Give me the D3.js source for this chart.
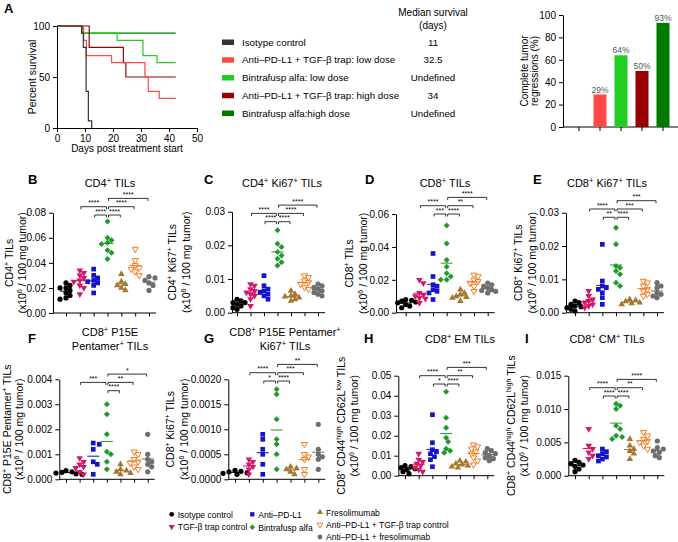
<!DOCTYPE html>
<html><head><meta charset="utf-8">
<script src="https://cdn.jsdelivr.net/npm/d3@7"></script>
<style>body{margin:0;background:#fff}svg{display:block;font-family:"Liberation Sans",Arial,sans-serif}</style>
</head><body><svg id="c" width="678" height="542"></svg>
<script>
// ---------------- DATA ----------------
const survivalGroups = ["Isotype control","Anti–PD-L1 + TGF-β trap: low dose","Bintrafusp alfa: low dose","Anti–PD-L1 + TGF-β trap: high dose","Bintrafusp alfa:high dose"];
const medianSurvival = ["11","32.5","Undefined","34","Undefined"];
const survIsotype   = [[0,100],[8.8,93],[9.4,79],[10.4,36],[11.2,7],[12.4,0]];
const survComboLow  = [[0,100],[9.5,86],[10.5,71],[19.5,64],[31.4,50],[32.6,36],[36.5,29],[42.4,29]];
const survBintraLow = [[0,100],[9,93],[21.5,86],[30.7,71],[35.7,64],[42.4,64]];
const survComboHigh = [[0,100],[11.5,79],[23.7,64],[24.6,50],[42.4,50]];
const survBintraHigh= [[0,100],[9,93],[42.4,93]];
const survXTicks = [0,10,20,30,40,50];
const survYTicks = [0,50,100];
const regressionPct = [0,29,64,50,93];
const regressionTicks = [0,20,40,60,80,100];

const treatmentGroups = ["Isotype control","TGF-β trap control","Anti–PD-L1","Bintrafusp alfa","Fresolimumab","Anti–PD-L1 + TGF-β trap control","Anti–PD-L1 + fresolimumab"];

const cd4TILs = [
 [0.024,0.022,0.02,0.018,0.016,0.014,0.012,0.011,0.02],
 [0.034,0.032,0.028,0.026,0.025,0.022,0.02,0.015,0.03],
 [0.035,0.03,0.028,0.026,0.025,0.024,0.022,0.016],
 [0.073,0.06,0.058,0.056,0.055,0.05,0.048,0.043],
 [0.031,0.025,0.023,0.022,0.02,0.018],
 [0.051,0.042,0.038,0.036,0.035,0.033,0.03],
 [0.029,0.028,0.026,0.024,0.022,0.018]];
const cd4Ki67TILs = [
 [0.004,0.0035,0.003,0.003,0.0025,0.002,0.0015,0.001],
 [0.0085,0.008,0.007,0.0065,0.006,0.0055,0.005,0.004,0.002],
 [0.011,0.008,0.007,0.0065,0.006,0.0055,0.005,0.004],
 [0.0245,0.0205,0.0195,0.018,0.017,0.016,0.015,0.014],
 [0.0065,0.0055,0.005,0.0048,0.0045,0.004,0.0035],
 [0.011,0.0105,0.0095,0.009,0.0085,0.0075,0.007],
 [0.0085,0.008,0.0075,0.007,0.0065,0.006,0.0055,0.005]];
const cd8TILs = [
 [0.008,0.0075,0.007,0.0065,0.006,0.005,0.004,0.003],
 [0.02,0.018,0.012,0.011,0.01,0.009,0.0085,0.006],
 [0.036,0.022,0.017,0.016,0.014,0.013,0.012,0.008],
 [0.053,0.042,0.032,0.028,0.024,0.022,0.02,0.02],
 [0.014,0.012,0.011,0.01,0.0095,0.009,0.007],
 [0.023,0.022,0.02,0.019,0.018,0.016,0.013],
 [0.018,0.017,0.016,0.015,0.014,0.0135,0.013,0.012]];
const cd8Ki67TILs = [
 [0.0035,0.003,0.0025,0.002,0.0018,0.0015,0.001,0.0005],
 [0.0065,0.005,0.004,0.0035,0.003,0.0025,0.002,0.0015],
 [0.0205,0.0095,0.008,0.0075,0.007,0.006,0.0045,0.0025],
 [0.0255,0.0205,0.014,0.0135,0.0125,0.0115,0.009,0.008],
 [0.004,0.0037,0.0034,0.003,0.0028,0.0025],
 [0.0095,0.009,0.008,0.007,0.0065,0.0055,0.005],
 [0.009,0.008,0.0075,0.006,0.0055,0.005,0.0045]];
const cd8PentTILs = [
 [0.00035,0.0003,0.00028,0.00025,0.00022,0.0002],
 [0.00085,0.0007,0.0006,0.0005,0.00045,0.0003,0.0002],
 [0.00145,0.0014,0.0012,0.0007,0.0006,0.0002],
 [0.003,0.0026,0.0018,0.0011,0.001,0.0007,0.0004],
 [0.0006,0.0004,0.00035,0.0003,0.00025,0.0002],
 [0.0011,0.001,0.0008,0.0007,0.00065,0.0005,0.0004],
 [0.0018,0.001,0.0008,0.0007,0.0006,0.0005,0.0003]];
const cd8PentKi67TILs = [
 [0.00018,0.00016,0.00015,0.00013,0.00012,0.0001],
 [0.0004,0.00035,0.0003,0.00025,0.0002,0.0001],
 [0.0009,0.0008,0.0006,0.0005,0.0003,0.0001],
 [0.0018,0.0017,0.0012,0.0008,0.0007,0.0005,0.0002],
 [0.00025,0.00022,0.0002,0.00015,0.0001],
 [0.0007,0.0005,0.00045,0.0004,0.0002,0.0001],
 [0.0011,0.0006,0.0005,0.00045,0.0004,0.0002]];
const cd8EMTILs = [
 [0.005,0.0045,0.004,0.0035,0.003,0.002,0.001],
 [0.011,0.008,0.007,0.006,0.005,0.004,0.003,0.002],
 [0.0305,0.0165,0.013,0.012,0.011,0.0095,0.008,0.0045],
 [0.042,0.029,0.024,0.019,0.017,0.0135,0.0125,0.0115],
 [0.0075,0.007,0.006,0.0055,0.005,0.0045,0.004],
 [0.0155,0.0145,0.0135,0.012,0.011,0.009,0.0075,0.0055],
 [0.0135,0.0125,0.0115,0.011,0.01,0.009,0.0085,0.0075]];
const cd8CMTILs = [
 [0.0023,0.002,0.0018,0.0016,0.0014,0.001,0.0006],
 [0.007,0.0045,0.004,0.0035,0.003,0.0025],
 [0.004,0.0036,0.0033,0.003,0.0028,0.0025,0.0022],
 [0.0108,0.0105,0.01,0.0075,0.007,0.006,0.0058,0.0055],
 [0.0055,0.0045,0.004,0.0037,0.0033,0.0025],
 [0.0065,0.006,0.0055,0.0052,0.005,0.0045,0.004],
 [0.0052,0.0042,0.004,0.0037,0.0035,0.003,0.0027]];

// significance: [groupA, groupB, label, row]
const sigB = [[1,3,"****",1],[2,3,"****",0],[3,4,"****",0],[3,5,"****",1],[3,6,"****",2]];
const sigC = [[1,3,"****",1],[2,3,"****",0],[3,4,"****",0],[3,5,"****",1],[3,6,"****",2]];
const sigD = [[1,3,"****",1],[2,3,"***",0],[3,4,"****",0],[3,5,"**",1],[3,6,"****",2]];
const sigE = [[1,3,"****",1],[2,3,"**",0],[3,4,"****",0],[3,5,"***",1],[3,6,"***",2]];
const sigF = [[1,3,"***",1],[3,4,"****",0],[3,5,"**",1],[3,6,"*",2]];
const sigG = [[1,3,"****",1],[2,3,"*",0],[3,4,"****",0],[3,5,"***",1],[3,6,"**",2]];
const sigH = [[1,3,"****",1],[2,3,"*",0],[3,4,"****",0],[3,5,"**",1],[3,6,"***",2]];
const sigI = [[1,3,"****",1],[2,3,"****",0],[3,4,"****",0],[3,5,"**",1],[3,6,"****",2]];

// ---------------- STYLE / LAYOUT ----------------
const survColors = ["#333333","#ff4848","#22cc22","#990000","#007a00"];
const markerStyles = [
 {t:"circle",fill:"#000",stroke:"none"},
 {t:"triD",fill:"#d4176b",stroke:"none"},
 {t:"square",fill:"#1414cc",stroke:"none"},
 {t:"diamond",fill:"#1f9a2a",stroke:"none"},
 {t:"triU",fill:"#a5762d",stroke:"none"},
 {t:"triD",fill:"#fff",stroke:"#f47b20"},
 {t:"circle",fill:"#6e6e6e",stroke:"none"}];

const svg = d3.select("#c");

function rich(sel, str){
  str.split(/(\^\{[^}]*\})/).forEach(p=>{
    if(!p) return;
    if(p.startsWith("^{")) sel.append("tspan").attr("baseline-shift","super").attr("font-size","68%").text(p.slice(2,-1));
    else sel.append("tspan").text(p);
  });
}
function styleAxis(g, fs){
  g.selectAll("path,line").attr("stroke","#000").attr("stroke-width",1);
  g.selectAll("text").attr("font-size",fs).attr("fill","#000").attr("font-family","Liberation Sans, Arial, sans-serif");
}
function marker(g, st, x, y, scale){
  scale = scale||1;
  let path, rot=0;
  if(st.t==="circle") path=d3.symbol(d3.symbolCircle,21*scale)();
  else if(st.t==="square") path=d3.symbol(d3.symbolSquare,22*scale)();
  else if(st.t==="diamond"){path=d3.symbol(d3.symbolSquare,18*scale)(); rot=45;}
  else if(st.t==="triU") path=d3.symbol(d3.symbolTriangle,19*scale)();
  else {path=d3.symbol(d3.symbolTriangle,(st.stroke!=="none"?16:19)*scale)(); rot=180;}
  g.append("path").attr("d",path).attr("transform",`translate(${x},${y}) rotate(${rot})`)
   .attr("fill",st.fill).attr("stroke",st.stroke).attr("stroke-width",st.stroke!=="none"?1:0);
}

// ---------------- PANEL A: survival ----------------
svg.append("text").attr("x",4).attr("y",13).attr("font-size",13).attr("font-weight","bold").text("A");
const sx = d3.scaleLinear([0,50],[57,197]);
const sy = d3.scaleLinear([0,100],[128,26]);
const gA = svg.append("g");
gA.append("g").attr("transform","translate(57,0)").call(d3.axisLeft(sy).tickValues(survYTicks).tickSize(4).tickSizeOuter(0)).call(g=>styleAxis(g,10));
gA.append("g").attr("transform","translate(0,128)").call(d3.axisBottom(sx).tickValues(survXTicks).tickSize(4).tickSizeOuter(0)).call(g=>styleAxis(g,10));
gA.append("text").attr("transform","translate(36,77) rotate(-90)").attr("text-anchor","middle").attr("font-size",10.5).text("Percent survival");
gA.append("text").attr("x",127).attr("y",152).attr("text-anchor","middle").attr("font-size",10).text("Days post treatment start");
const survLine = d3.line().x(d=>sx(d[0])).y(d=>sy(d[1])).curve(d3.curveStepAfter);
[survBintraHigh,survBintraLow,survComboHigh,survComboLow,survIsotype].forEach((s,i)=>{
  const ci=[4,2,3,1,0][i];
  gA.append("path").attr("d",survLine(s)).attr("fill","none").attr("stroke",survColors[ci]).attr("stroke-width",1.2);
});
svg.append("text").attr("x",433).attr("y",16).attr("text-anchor","middle").attr("font-size",10).text("Median survival");
svg.append("text").attr("x",433).attr("y",28.5).attr("text-anchor","middle").attr("font-size",10).text("(days)");
const legRowY = d3.scalePoint(survivalGroups,[42,113]);
survivalGroups.forEach((g,i)=>{
  const y=legRowY(g);
  svg.append("rect").attr("x",222).attr("y",y-2.5).attr("width",12).attr("height",5.5).attr("fill",survColors[i]);
  svg.append("text").attr("x",242).attr("y",y+3.5).attr("font-size",9.8).text(g);
  svg.append("text").attr("x",433).attr("y",y+3.5).attr("text-anchor","middle").attr("font-size",9.8).text(medianSurvival[i]);
});

// ---------------- PANEL A: regression bars ----------------
const bx = d3.scaleBand(survivalGroups,[568.5,673.5]).paddingInner(0.38).paddingOuter(0.19);
const by = d3.scaleLinear([0,100],[127,15]);
const gR = svg.append("g");
gR.append("g").attr("transform","translate(563,0)").call(d3.axisLeft(by).tickValues(regressionTicks).tickSize(4).tickSizeOuter(0)).call(g=>styleAxis(g,10));
const xa = gR.append("g").attr("transform","translate(0,127)").call(d3.axisBottom(bx).tickFormat("").tickSize(4).tickSizeOuter(0));
xa.select(".domain").attr("d","M563,0H678");
styleAxis(xa,9);
survivalGroups.forEach((g,i)=>{
  if(regressionPct[i]>0){
    gR.append("rect").attr("x",bx(g)).attr("y",by(regressionPct[i])).attr("width",bx.bandwidth()).attr("height",by(0)-by(regressionPct[i])).attr("fill",survColors[i]);
    gR.append("text").attr("x",bx(g)+bx.bandwidth()/2).attr("y",by(regressionPct[i])-2).attr("text-anchor","middle").attr("font-size",8.5).attr("fill","#555").text(regressionPct[i]+"%");
  }
});
gR.append("text").attr("transform","translate(528,71) rotate(-90)").attr("text-anchor","middle").attr("font-size",10).text("Complete tumor");
gR.append("text").attr("transform","translate(538,71) rotate(-90)").attr("text-anchor","middle").attr("font-size",10).text("regressions (%)");

// ---------------- DOT PANELS ----------------
const panels = [
 {L:"B",lx:28,ly:184,title:["CD4^{+} TILs"],tx:110,ty:187,yl:"CD4^{+} TILs",yl1:9,yl2:22,ax:53,g0:66,g1:149,yb:313,yt:212.7,max:0.08,step:0.02,fmt:".2f",data:cd4TILs,sig:sigB,sy0:215},
 {L:"C",lx:204,ly:184,title:["CD4^{+} Ki67^{+} TILs"],tx:282,ty:187,yl:"CD4^{+} Ki67^{+} TILs",yl1:172,yl2:186,ax:232,g0:237,g1:318,yb:312.7,yt:211.7,max:0.03,step:0.01,fmt:".2f",data:cd4Ki67TILs,sig:sigC,sy0:221.7},
 {L:"D",lx:365,ly:184,title:["CD8^{+} TILs"],tx:445,ty:187,yl:"CD8^{+} TILs",yl1:349,yl2:363,ax:396,g0:405.7,g1:487.7,yb:312.7,yt:214,max:0.06,step:0.02,fmt:".2f",data:cd8TILs,sig:sigD,sy0:214},
 {L:"E",lx:533,ly:184,title:["CD8^{+} Ki67^{+} TILs"],tx:607,ty:187,yl:"CD8^{+} Ki67^{+} TILs",yl1:518,yl2:532,ax:566,g0:575,g1:657,yb:312.7,yt:212.7,max:0.03,step:0.01,fmt:".2f",data:cd8Ki67TILs,sig:sigE,sy0:217.3},
 {L:"F",lx:28,ly:343,title:["CD8^{+} P15E","Pentamer^{+} TILs"],tx:110,ty:336,yl:"CD8^{+} P15E Pentamer^{+} TILs",yl1:7,yl2:19.5,ax:59.3,g0:66,g1:147.7,yb:479.3,yt:379.3,max:0.004,step:0.001,fmt:".3f",data:cd8PentTILs,sig:sigF,sy0:390.7},
 {L:"G",lx:204,ly:343,title:["CD8^{+} P15E Pentamer^{+}","Ki67^{+} TILs"],tx:285,ty:336,yl:"CD8^{+} Ki67^{+} TILs",yl1:170,yl2:184,ax:228.3,g0:235,g1:318.3,yb:479.3,yt:379.3,max:0.002,step:0.0005,fmt:".4f",data:cd8PentKi67TILs,sig:sigG,sy0:381},
 {L:"H",lx:364,ly:343,title:["CD8^{+} EM TILs"],tx:460,ty:343,yl:"CD8^{+} CD44^{high} CD62L^{low} TILs",yl1:341,yl2:354,ax:398.3,g0:405,g1:487.3,yb:475.7,yt:375.7,max:0.05,step:0.01,fmt:".2f",data:cd8EMTILs,sig:sigH,sy0:384},
 {L:"I",lx:525,ly:343,title:["CD8^{+} CM^{+} TILs"],tx:607,ty:343,yl:"CD8^{+} CD44^{high} CD62L^{high} TILs",yl1:511,yl2:524,ax:568.3,g0:575,g1:657.3,yb:475.7,yt:375.7,max:0.015,step:0.005,fmt:".3f",data:cd8CMTILs,sig:sigI,sy0:396}
];

function swarm(vals, y, cx){
  const pts = vals.map(v=>({v,y:y(v)})).sort((a,b)=>a.y-b.y);
  const placed=[];
  pts.forEach(p=>{
    for(let k=0;k<30;k++){
      const off=(k%2?1:-1)*Math.ceil(k/2)*2;
      const x=cx+off;
      if(placed.every(q=>Math.hypot(q.x-x,q.y-p.y)>=4.3)){p.x=x;break;}
    }
    placed.push(p);
  });
  return placed;
}

panels.forEach(P=>{
  const g = svg.append("g");
  const x = d3.scalePoint(treatmentGroups,[P.g0,P.g1]);
  const y = d3.scaleLinear([0,P.max],[P.yb,P.yt]);
  const ticks = d3.range(0,P.max+P.step/2,P.step);
  g.append("g").attr("transform",`translate(${P.ax},0)`).call(d3.axisLeft(y).tickValues(ticks).tickFormat(d3.format(P.fmt)).tickSize(4).tickSizeOuter(0)).call(a=>styleAxis(a,10));
  const xa = g.append("g").attr("transform",`translate(0,${P.yb})`).call(d3.axisBottom(x).tickFormat("").tickSize(3.5).tickSizeOuter(0));
  xa.select(".domain").attr("d",`M${P.ax},0H${P.g1+7}`);
  styleAxis(xa,9);
  g.append("text").attr("x",P.lx).attr("y",P.ly).attr("font-size",13).attr("font-weight","bold").text(P.L);
  P.title.forEach((t,i)=>{
    const tt = g.append("text").attr("x",P.tx).attr("y",P.ty+i*14).attr("text-anchor","middle").attr("font-size",11);
    rich(tt,t);
  });
  const ym=(P.yb+P.yt)/2;
  const t1=g.append("text").attr("transform",`translate(${P.yl1},${ym}) rotate(-90)`).attr("dy","0.35em").attr("text-anchor","middle").attr("font-size",10.5);
  rich(t1,P.yl);
  const t2=g.append("text").attr("transform",`translate(${P.yl2},${ym}) rotate(-90)`).attr("dy","0.35em").attr("text-anchor","middle").attr("font-size",10.5);
  rich(t2,"(x10^{6} / 100 mg tumor)");
  P.data.forEach((vals,gi)=>{
    const cx=x(treatmentGroups[gi]);
    const st=markerStyles[gi];
    swarm(vals,y,cx).forEach(p=>marker(g,st,p.x,p.y));
    const m=d3.mean(vals);
    g.append("line").attr("x1",cx-6).attr("x2",cx+6).attr("y1",y(m)).attr("y2",y(m)).attr("stroke",st.stroke!=="none"?st.stroke:st.fill).attr("stroke-width",1);
  });
  P.sig.forEach(([a,b,lab,row])=>{
    const x1=x(treatmentGroups[a])+1, x2=x(treatmentGroups[b])-1;
    const yy=P.sy0-row*8.3;
    g.append("path").attr("d",`M${x1},${yy+2.5}V${yy}H${x2}V${yy+2.5}`).attr("fill","none").attr("stroke","#000").attr("stroke-width",0.8);
    g.append("text").attr("x",(x1+x2)/2).attr("y",yy-1.5).attr("text-anchor","middle").attr("font-size",7).text(lab);
  });
});

// ---------------- BOTTOM LEGEND ----------------
const legCols=[[0,1],[2,3],[4,5,6]];
const legX=[171.7,252.3,320];
const legY=[[514.3,526.7],[514.3,527.3],[512.3,524.7,537]];
legCols.forEach((col,ci)=>{
  col.forEach((gi,ri)=>{
    const y=legY[ci][ri];
    marker(svg,markerStyles[gi],legX[ci],y,0.85);
    svg.append("text").attr("x",legX[ci]+6).attr("y",y+3.2).attr("font-size",8.5).text(treatmentGroups[gi]);
  });
});
</script></body></html>
